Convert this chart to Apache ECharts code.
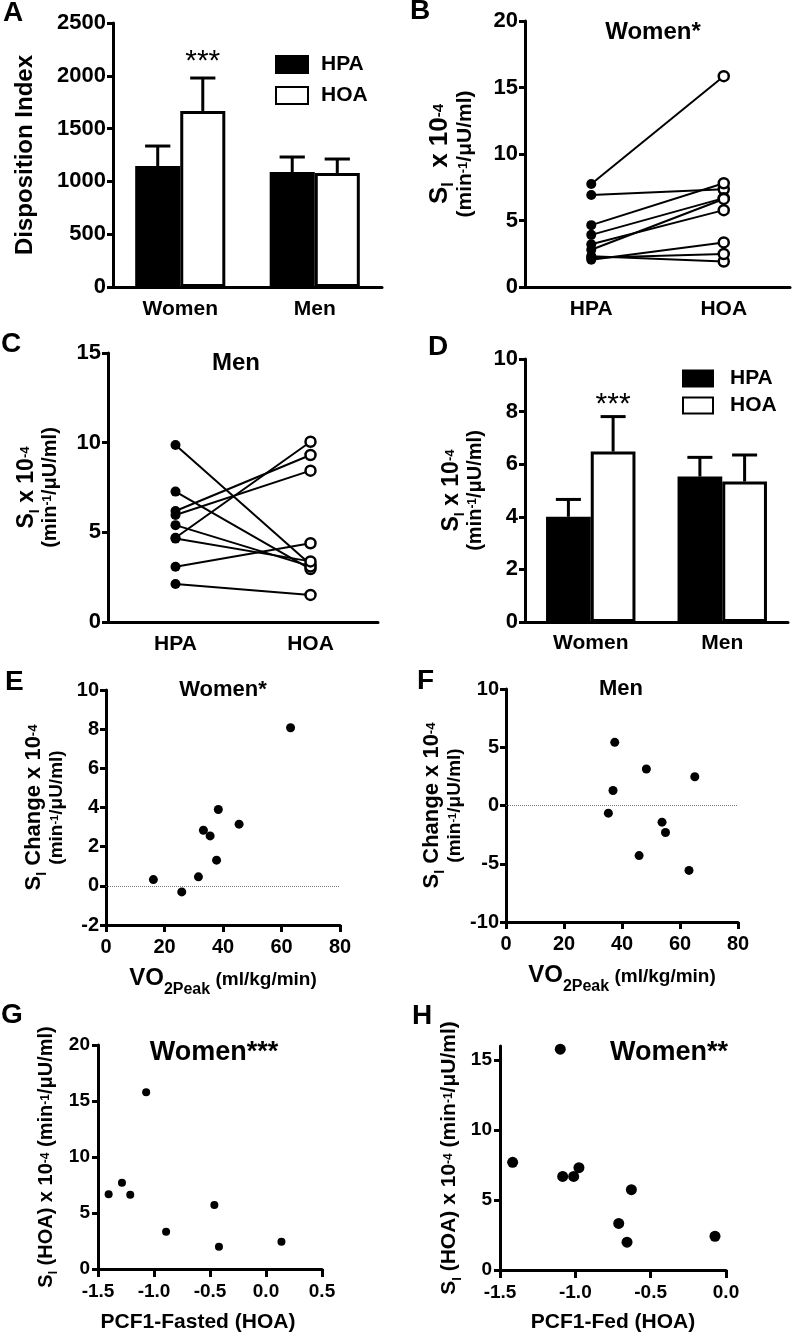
<!DOCTYPE html>
<html><head><meta charset="utf-8">
<script src="https://cdn.jsdelivr.net/npm/echarts@6/dist/echarts.min.js"></script>
<style>html,body{margin:0;padding:0;background:#fff}#c{width:796px;height:1334px}</style>
</head><body><div id="c"></div>
<script>
// ---------- DATA ----------
const barCategories = ['Women', 'Men'];
const pairCategories = ['HPA', 'HOA'];
// Panel A: Disposition index (mean, SEM)
const diHPA = [1146, 1089];
const diHPAsem = [189, 142];
const diHOA = [1667, 1080];
const diHOAsem = [312, 132];
const diSig = ['***', ''];
// Panel B: women SI paired
const womenHPA = [7.74, 6.92, 4.65, 3.92, 3.22, 2.80, 2.32, 2.20, 2.05];
const womenHOA = [15.85, 7.35, 7.80, 6.68, 5.78, 6.62, 1.92, 2.48, 3.35];
// Panel C: men SI paired
const menHPA = [9.87, 7.27, 6.19, 5.97, 5.40, 4.70, 4.65, 3.08, 2.12];
const menHOA = [3.20, 2.95, 9.31, 8.44, 3.10, 10.05, 3.38, 4.39, 1.51];
// Panel D: SI (mean, SEM)
const siHPA = [4.00, 5.53];
const siHPAsem = [0.66, 0.73];
const siHOA = [6.48, 5.34];
const siHOAsem = [1.33, 1.01];
const siSig = ['***', ''];
// Panel E: women SI change vs VO2peak
const womenVO2 = [16.2, 25.9, 31.6, 33.3, 35.6, 37.8, 38.4, 45.5, 63.1];
const womenSIchange = [0.32, -0.31, 0.46, 2.84, 2.55, 1.31, 3.90, 3.15, 8.07];
// Panel F: men SI change vs VO2peak
const menVO2 = [37.5, 36.9, 35.3, 48.4, 45.9, 53.8, 55.0, 65.1, 63.1];
const menSIchange = [5.42, 1.29, -0.66, 3.13, -4.30, -1.43, -2.32, 2.47, -5.57];
// Panel G: SI (HOA) vs PCF1-Fasted
const pcfFasted = [-1.405, -1.286, -1.212, -1.07, -0.892, -0.461, -0.420, 0.138];
const siHOAfasted = [6.67, 7.70, 6.64, 15.79, 3.32, 5.72, 1.99, 2.43];
// Panel H: SI (HOA) vs PCF1-Fed
const pcfFed = [-1.416, -1.10, -1.084, -1.011, -0.976, -0.712, -0.657, -0.628, -0.073];
const siHOAfed = [7.69, 15.77, 6.68, 6.68, 7.31, 3.33, 1.99, 5.74, 2.41];
const hYTicks = [0, 5, 10, 15];

// ---------- STYLE HELPERS ----------
const FF = "'Liberation Sans', Arial, Helvetica, sans-serif";
const K = '#000';
const axisLine = {show: true, onZero: false, lineStyle: {color: K, width: 3}};
function ticks(len, extra) { return Object.assign({show: true, length: len, lineStyle: {color: K, width: 3}}, extra || {}); }
function lab(fs, margin, extra) { return Object.assign({color: K, fontSize: fs, fontWeight: 'bold', fontFamily: FF, margin: margin, formatter: v => String(v)}, extra || {}); }
function richSet(main, second) {
  const b = {fontWeight: 'bold', fontFamily: FF, color: K};
  const sb = Math.round(main * 0.62), sp = Math.round(main * 0.58), ssp = Math.round(second * 0.6);
  return {
    m: Object.assign({fontSize: main, lineHeight: main, verticalAlign: 'bottom', padding: [0, 0, 4, 0]}, b),
    sb: Object.assign({fontSize: sb, lineHeight: sb, verticalAlign: 'bottom'}, b),
    sp: Object.assign({fontSize: sp, lineHeight: sp, verticalAlign: 'top'}, b),
    s: Object.assign({fontSize: second, lineHeight: second, verticalAlign: 'bottom', padding: [0, 0, 2, 0]}, b),
    ssp: Object.assign({fontSize: ssp, lineHeight: ssp, verticalAlign: 'top'}, b)
  };
}
function yName(text, gap, rich) {
  return {name: text, nameLocation: 'middle', nameRotate: 90, nameGap: gap, nameTextStyle: {rich: rich}};
}
const vo2Name = {
  name: '{vo|VO}{sb|2Peak}{t| (ml/kg/min)}', nameLocation: 'middle', nameGap: 49,
  nameTextStyle: {rich: {
    vo: {fontSize: 24, lineHeight: 24, fontWeight: 'bold', fontFamily: FF, color: K, verticalAlign: 'bottom', padding: [0, 0, 8, 0]},
    sb: {fontSize: 16, lineHeight: 16, fontWeight: 'bold', fontFamily: FF, color: K, verticalAlign: 'bottom'},
    t: {fontSize: 19, lineHeight: 19, fontWeight: 'bold', fontFamily: FF, color: K, verticalAlign: 'bottom', padding: [0, 0, 9, 0]}
  }}
};

function barSeries(idx, hpa, hoa, gap) {
  return [
    {type: 'bar', name: 'HPA', xAxisIndex: idx, yAxisIndex: idx, data: hpa, barGap: '0%', barCategoryGap: gap,
      itemStyle: {color: K, borderColor: K, borderWidth: 3}, silent: true, z: 2},
    {type: 'bar', name: 'HOA', xAxisIndex: idx, yAxisIndex: idx, data: hoa, barGap: '0%', barCategoryGap: gap,
      itemStyle: {color: '#fff', borderColor: K, borderWidth: 3}, silent: true, z: 2}
  ];
}
function errSeries(idx, hpa, hpaSem, hoa, hoaSem, gapFrac) {
  const data = [];
  hpa.forEach((v, i) => data.push([i, v, hpaSem[i], -1]));
  hoa.forEach((v, i) => data.push([i, v, hoaSem[i], 1]));
  return {
    type: 'custom', xAxisIndex: idx, yAxisIndex: idx, data: data, silent: true, z: 4,
    encode: {x: 0, y: 1},
    renderItem: function (params, api) {
      const c = api.value(0), v = api.value(1), e = api.value(2), side = api.value(3);
      const base = api.coord([c, v]), top = api.coord([c, v + e]);
      const band = api.size([1, 0])[0];
      const bw = band * (1 - gapFrac) / 2;
      const x = base[0] + side * bw / 2;
      const cap = bw * 0.28;
      const st = {stroke: K, lineWidth: 3};
      return {type: 'group', children: [
        {type: 'line', shape: {x1: x, y1: base[1], x2: x, y2: top[1]}, style: st},
        {type: 'line', shape: {x1: x - cap, y1: top[1], x2: x + cap, y2: top[1]}, style: st}
      ]};
    }
  };
}
function sigSeries(idx, hoa, hoaSem, sig, gapFrac, offset) {
  const data = [];
  sig.forEach((s, i) => { if (s) data.push([i, hoa[i] + hoaSem[i], s]); });
  return {
    type: 'custom', xAxisIndex: idx, yAxisIndex: idx, data: data, silent: true, z: 5,
    encode: {x: 0, y: 1},
    renderItem: function (params, api) {
      const p = api.coord([api.value(0), api.value(1)]);
      const band = api.size([1, 0])[0];
      const bw = band * (1 - gapFrac) / 2;
      return {type: 'text', x: p[0] + bw / 2, y: p[1] - offset,
        style: {text: data[params.dataIndex][2], fontSize: 30, fontFamily: FF, fill: K, align: 'center', verticalAlign: 'middle'}};
    }
  };
}
function pairSeries(idx, hpa, hoa) {
  return hpa.map((v, i) => ({
    type: 'line', xAxisIndex: idx, yAxisIndex: idx, silent: true, symbol: 'circle', z: 3,
    lineStyle: {color: K, width: 2}, itemStyle: {color: K},
    data: [
      {value: v, symbolSize: 10, itemStyle: {color: K, borderWidth: 0, opacity: 1}},
      {value: hoa[i], symbolSize: 10, itemStyle: {color: '#fff', borderColor: K, borderWidth: 2.5, opacity: 1}}
    ]
  }));
}
function scatter(idx, xs, ys, size, zeroLine) {
  const s = {type: 'scatter', xAxisIndex: idx, yAxisIndex: idx, silent: true, symbolSize: size,
    itemStyle: {color: K, opacity: 1}, data: xs.map((x, i) => [x, ys[i]])};
  if (zeroLine) {
    s.markLine = {silent: true, symbol: 'none', label: {show: false},
      lineStyle: {color: '#777', type: 'dotted', width: 1}, data: [{yAxis: 0}]};
  }
  return s;
}
function txt(text, x, y, fs, align) {
  return {type: 'text', x: x, y: y, silent: true,
    style: {text: text, fontSize: fs, fontWeight: 'bold', fontFamily: FF, fill: K, align: align || 'center', verticalAlign: 'middle'}};
}

const richB = richSet(26, 21), richC = richSet(23, 20), richD = richSet(23, 20), richE = richSet(22, 19);
const richG = richSet(20, 20), richH = richSet(21, 21);
const siTitle2 = '{m|S}{sb|I}{m| x 10}{sp|-4}\n{s|(min}{ssp|-1}{s|/μU/ml)}';
const siTitleB = '{m|S}{sb|I}{m|  x 10}{sp|-4}\n{s|(min}{ssp|-1}{s|/μU/ml)}';
const changeTitle = '{m|S}{sb|I}{m| Change x 10}{sp|-4}\n{s|(min}{ssp|-1}{s|/μU/ml)}';
const hoaTitle = '{m|S}{sb|I}{m| (HOA) x 10}{sp|-4}{m| (min}{sp|-1}{m|/μU/ml)}';

const option = {
  animation: false,
  backgroundColor: '#fff',
  grid: [
    {left: 113, top: 23, width: 269, height: 264},
    {left: 525, top: 21, width: 265, height: 266},
    {left: 108, top: 353, width: 270, height: 269},
    {left: 525, top: 359, width: 263, height: 263},
    {left: 106, top: 690, width: 234, height: 235},
    {left: 506, top: 689, width: 232, height: 233},
    {left: 98, top: 1045, width: 224, height: 225},
    {left: 500, top: 1046, width: 226, height: 227}
  ],
  xAxis: [
    {gridIndex: 0, type: 'category', data: barCategories, axisLine: axisLine, axisTick: {show: false}, axisLabel: lab(21, 12), splitLine: {show: false}},
    {gridIndex: 1, type: 'category', data: pairCategories, axisLine: axisLine, axisTick: {show: false}, axisLabel: lab(21, 12), splitLine: {show: false}},
    {gridIndex: 2, type: 'category', data: pairCategories, axisLine: axisLine, axisTick: {show: false}, axisLabel: lab(21, 12), splitLine: {show: false}},
    {gridIndex: 3, type: 'category', data: barCategories, axisLine: axisLine, axisTick: {show: false}, axisLabel: lab(21, 11), splitLine: {show: false}},
    Object.assign({gridIndex: 4, type: 'value', min: 0, max: 80, interval: 20, axisLine: axisLine, axisTick: ticks(7), axisLabel: lab(20, 12), splitLine: {show: false}}, vo2Name),
    Object.assign({gridIndex: 5, type: 'value', min: 0, max: 80, interval: 20, axisLine: axisLine, axisTick: ticks(7), axisLabel: lab(20, 12), splitLine: {show: false}}, vo2Name),
    {gridIndex: 6, type: 'value', min: -1.5, max: 0.5, interval: 0.5, axisLine: axisLine, axisTick: ticks(8),
      axisLabel: lab(19, 13, {formatter: v => v.toFixed(1)}), splitLine: {show: false},
      name: 'PCF1-Fasted (HOA)', nameLocation: 'middle', nameGap: 43,
      nameTextStyle: {fontSize: 21, fontWeight: 'bold', fontFamily: FF, color: K, padding: [0, 24, 0, 0]}},
    {gridIndex: 7, type: 'value', min: -1.5, max: 0, interval: 0.5, axisLine: axisLine, axisTick: ticks(8),
      axisLabel: lab(19, 13, {formatter: v => v.toFixed(1)}), splitLine: {show: false},
      name: 'PCF1-Fed (HOA)', nameLocation: 'middle', nameGap: 42,
      nameTextStyle: {fontSize: 21, fontWeight: 'bold', fontFamily: FF, color: K}}
  ],
  yAxis: [
    {gridIndex: 0, type: 'value', min: 0, max: 2500, interval: 500, axisLine: axisLine, axisTick: ticks(6), axisLabel: lab(22, 7), splitLine: {show: false},
      name: 'Disposition Index', nameLocation: 'middle', nameRotate: 90, nameGap: 76,
      nameTextStyle: {fontSize: 24, fontWeight: 'bold', fontFamily: FF, color: K}},
    Object.assign({gridIndex: 1, type: 'value', min: 0, max: 20, interval: 5, axisLine: axisLine, axisTick: ticks(6), axisLabel: lab(22, 7), splitLine: {show: false}}, yName(siTitleB, 47, richB)),
    Object.assign({gridIndex: 2, type: 'value', min: 0, max: 15, interval: 5, axisLine: axisLine, axisTick: ticks(6), axisLabel: lab(22, 7), splitLine: {show: false}}, yName(siTitle2, 46, richC)),
    Object.assign({gridIndex: 3, type: 'value', min: 0, max: 10, interval: 2, axisLine: axisLine, axisTick: ticks(6), axisLabel: lab(22, 7), splitLine: {show: false}}, yName(siTitle2, 38, richD)),
    Object.assign({gridIndex: 4, type: 'value', min: -2, max: 10, interval: 2, axisLine: axisLine, axisTick: ticks(6), axisLabel: lab(20, 7), splitLine: {show: false}}, yName(changeTitle, 38, richE)),
    Object.assign({gridIndex: 5, type: 'value', min: -10, max: 10, interval: 5, axisLine: axisLine, axisTick: ticks(6), axisLabel: lab(20, 7), splitLine: {show: false}}, yName(changeTitle, 38, richE)),
    Object.assign({gridIndex: 6, type: 'value', min: 0, max: 20, interval: 5, axisLine: axisLine, axisTick: ticks(6), axisLabel: lab(19, 8), splitLine: {show: false}}, yName(hoaTitle, 38, richG)),
    Object.assign({gridIndex: 7, type: 'value', min: 0, max: 16, axisLine: axisLine, axisTick: ticks(6, {customValues: hYTicks}),
      axisLabel: lab(19, 8, {customValues: hYTicks}), splitLine: {show: false}}, yName(hoaTitle, 36, richH))
  ],
  legend: [
    {data: ['HPA', 'HOA'], orient: 'vertical', left: 270, top: 49, itemWidth: 32, itemHeight: 17, itemGap: 10, icon: 'rect', selectedMode: false,
      textStyle: {fontSize: 21, fontWeight: 'bold', fontFamily: FF, color: K, padding: [0, 0, 0, 8]}},
    {data: ['HPA', 'HOA'], orient: 'vertical', left: 677, top: 363, itemWidth: 30, itemHeight: 16, itemGap: 6, icon: 'rect', selectedMode: false,
      textStyle: {fontSize: 21, fontWeight: 'bold', fontFamily: FF, color: K, padding: [0, 0, 0, 12]}}
  ],
  graphic: [
    txt('A', 3, 13, 28, 'left'), txt('B', 410, 11, 28, 'left'), txt('C', 1, 344, 28, 'left'), txt('D', 428, 347, 28, 'left'),
    txt('E', 5, 682, 28, 'left'), txt('F', 417, 681, 28, 'left'), txt('G', 1, 1015, 28, 'left'), txt('H', 412, 1016, 28, 'left'),
    txt('Women*', 653, 32, 24), txt('Men', 236, 363, 24), txt('Women*', 223, 690, 22), txt('Men', 621, 689, 22),
    txt('Women***', 214, 1053, 27), txt('Women**', 669, 1053, 27)
  ],
  series: [].concat(
    barSeries(0, diHPA, diHOA, '33%'),
    [errSeries(0, diHPA, diHPAsem, diHOA, diHOAsem, 0.33), sigSeries(0, diHOA, diHOAsem, diSig, 0.33, 16)],
    pairSeries(1, womenHPA, womenHOA),
    pairSeries(2, menHPA, menHOA),
    barSeries(3, siHPA, siHOA, '32%'),
    [errSeries(3, siHPA, siHPAsem, siHOA, siHOAsem, 0.32), sigSeries(3, siHOA, siHOAsem, siSig, 0.32, 12)],
    [scatter(4, womenVO2, womenSIchange, 9, true), scatter(5, menVO2, menSIchange, 9, true),
     scatter(6, pcfFasted, siHOAfasted, 8, false), scatter(7, pcfFed, siHOAfed, 11, false)]
  )
};
const chart = echarts.init(document.getElementById('c'), null, {renderer: 'canvas'});
chart.setOption(option);
</script></body></html>
